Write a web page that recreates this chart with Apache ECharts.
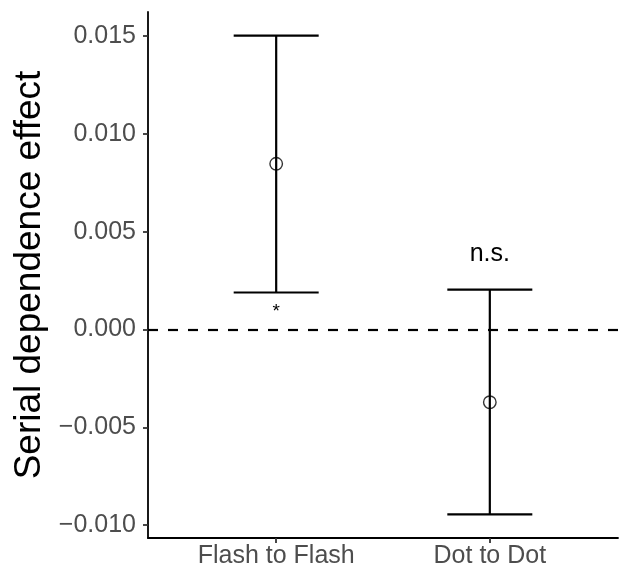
<!DOCTYPE html>
<html>
<head>
<meta charset="utf-8">
<script src="https://cdn.jsdelivr.net/npm/echarts@6/dist/echarts.min.js"></script>
<style>
  html, body { margin: 0; padding: 0; background: #fff; }
  #chart { width: 624px; height: 570px; }
</style>
</head>
<body>
<div id="chart"></div>
<script>
// conditions on the x axis
const categories = ['Flash to Flash', 'Dot to Dot']
const catPos = [1, 2]

// serial dependence estimate with CI
const means = [0.00847, -0.00372]
const lower = [0.00189, -0.00945]
const upper = [0.01502, 0.00204]

// significance labels and where they sit
const sigLabels = ['*', 'n.s.']
const sigY = [0.0009, 0.00385]
const sigSize = [19, 25]

const yTicks = [-0.01, -0.005, 0, 0.005, 0.01, 0.015]

const FONT = 'Liberation Sans, Arial, sans-serif'

const chart = echarts.init(document.getElementById('chart'), null, { renderer: 'canvas' })

const fmt = v => {
  const s = Math.abs(v).toFixed(3)
  return v < -1e-9 ? '\u2212' + s : s
}

const option = {
  backgroundColor: '#fff',
  animation: false,
  grid: { left: 148, right: 6, top: 12, bottom: 32, containLabel: false },
  xAxis: {
    type: 'value',
    min: 0.4,
    max: 2.6,
    splitLine: { show: false },
    axisLine: { show: true, onZero: false, lineStyle: { color: '#000', width: 1.8 } },
    axisTick: { show: true, customValues: catPos, length: 5, lineStyle: { color: '#333', width: 1.8 } },
    axisLabel: {
      customValues: catPos,
      formatter: v => categories[catPos.indexOf(Math.round(v))] || '',
      color: '#4d4d4d',
      fontSize: 25,
      fontFamily: FONT,
      margin: 6
    }
  },
  yAxis: {
    type: 'value',
    min: -0.01066,
    max: 0.01623,
    name: 'Serial dependence effect',
    nameLocation: 'middle',
    nameRotate: 90,
    nameGap: 97,
    nameTextStyle: { color: '#000', fontSize: 37, fontFamily: FONT },
    splitLine: { show: false },
    axisLine: { show: true, onZero: false, lineStyle: { color: '#000', width: 1.8 } },
    axisTick: { show: true, customValues: yTicks, length: 5, lineStyle: { color: '#333', width: 1.8 } },
    axisLabel: {
      customValues: yTicks,
      formatter: fmt,
      color: '#4d4d4d',
      fontSize: 25,
      fontFamily: FONT,
      margin: 12
    }
  },
  series: [
    {
      // reference line at zero
      type: 'line',
      data: [],
      markLine: {
        silent: true,
        symbol: 'none',
        label: { show: false },
        lineStyle: { color: '#000', type: [10, 10], width: 2.2 },
        data: [{ yAxis: 0 }]
      }
    },
    {
      // error bars
      type: 'custom',
      data: catPos.map((x, i) => [x, lower[i], upper[i]]),
      renderItem: (params, api) => {
        const x = api.value(0)
        const lo = api.coord([x, api.value(1)])
        const hi = api.coord([x, api.value(2)])
        const half = 42.5
        const style = { stroke: '#000', lineWidth: 2.2 }
        return {
          type: 'group',
          children: [
            { type: 'line', shape: { x1: lo[0], y1: lo[1], x2: hi[0], y2: hi[1] }, style },
            { type: 'line', shape: { x1: hi[0] - half, y1: hi[1], x2: hi[0] + half, y2: hi[1] }, style },
            { type: 'line', shape: { x1: lo[0] - half, y1: lo[1], x2: lo[0] + half, y2: lo[1] }, style }
          ]
        }
      },
      z: 2
    },
    {
      type: 'scatter',
      data: catPos.map((x, i) => [x, means[i]]),
      symbol: 'circle',
      symbolSize: 12.5,
      itemStyle: { color: 'rgba(0,0,0,0)', borderColor: '#000', borderWidth: 1.4 },
      z: 3
    },
    {
      // significance markers
      type: 'custom',
      data: catPos.map((x, i) => [x, sigY[i], i]),
      renderItem: (params, api) => {
        const i = api.value(2)
        const p = api.coord([api.value(0), api.value(1)])
        return {
          type: 'text',
          style: {
            x: p[0],
            y: p[1],
            text: sigLabels[i],
            fill: '#000',
            fontSize: sigSize[i],
            fontFamily: FONT,
            align: 'center',
            verticalAlign: 'middle'
          }
        }
      },
      z: 4
    }
  ]
}

chart.setOption(option)
</script>
</body>
</html>
